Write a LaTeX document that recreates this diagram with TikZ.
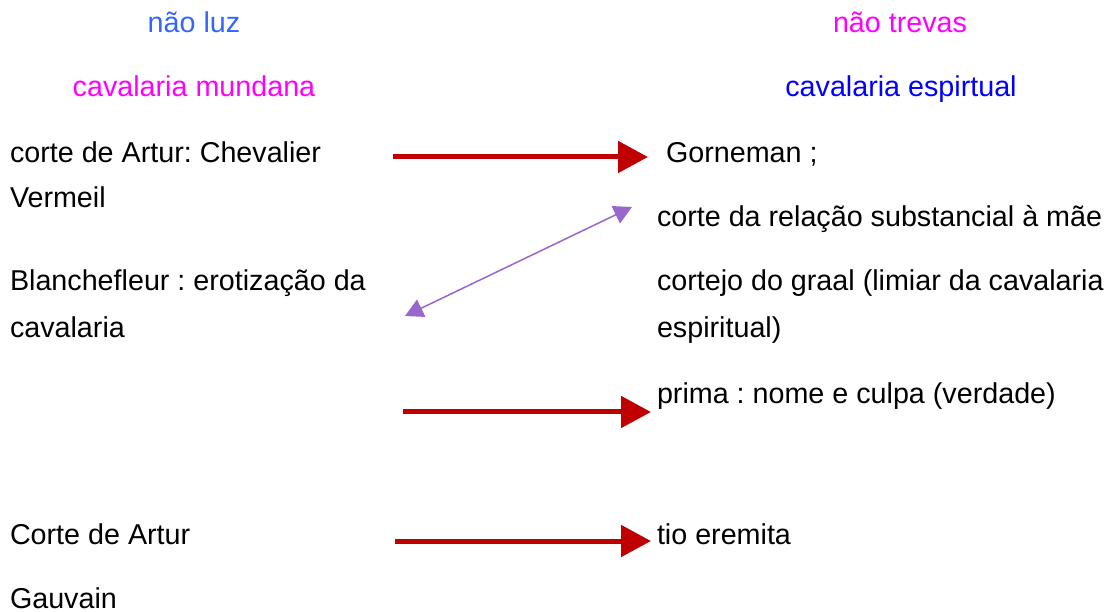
\documentclass[tikz,border=0pt]{standalone}
\usepackage{fontspec}
\setmainfont{Liberation Sans}
\usetikzlibrary{arrows.meta}
\definecolor{lightblue}{HTML}{3366FF}
\definecolor{magent}{HTML}{FF00FF}
\definecolor{pureblue}{HTML}{0000FF}
\definecolor{darkred}{HTML}{C00000}
\definecolor{lilac}{HTML}{9966CC}
\frenchspacing
\begin{document}
\begin{tikzpicture}[x=1pt,y=-1pt,
  txt/.style={inner sep=0pt,outer sep=0pt,font=\fontsize{28.7}{34}\selectfont},
  lft/.style={txt,anchor=base west},
  ctr/.style={txt,anchor=base},
  redarrow/.style={draw=darkred,fill=darkred,line width=5pt,-{Triangle[length=30pt,width=31pt]}},
  purplearrow/.style={draw=lilac,fill=lilac,line width=1.5pt,{Triangle[length=18pt,width=19pt]}-{Triangle[length=18pt,width=19pt]}}]
\useasboundingbox (0,0) rectangle (1120,612);
% headers
\node[ctr,text=lightblue] (h1) at (194,33) {não luz};
\node[ctr,text=magent] (h2) at (194,97) {cavalaria mundana};
\node[ctr,text=magent] (h3) at (900,33) {não trevas};
\node[ctr,text=pureblue] (h4) at (901,97) {cavalaria espirtual};
% left column
\node[lft] (l1) at (10,163) {corte de Artur: Chevalier};
\node[lft] (l2) at (10,208) {Vermeil};
\node[lft] (l3) at (10,291) {Blanchefleur : erotização da};
\node[lft] (l4) at (10,338) {cavalaria};
\node[lft] (l5) at (10,544) {Corte de Artur};
\node[lft,text depth=0pt] (l6) at (10,608) {Gauvain};
% right column
\node[lft] (r1) at (666,163) {Gorneman ;};
\node[lft] (r2) at (657,227) {corte da relação substancial à mãe};
\node[lft] (r3) at (657,291) {cortejo do graal (limiar da cavalaria};
\node[lft] (r4) at (657,338) {espiritual)};
\node[lft] (r5) at (657,403) {prima : nome e culpa (verdade)};
\node[lft] (r6) at (657,544) {tio eremita};
% arrow end points
\coordinate (a1s) at (393,157);
\coordinate (a1e) at (648,157);
\coordinate (bs) at (405,316);
\coordinate (be) at (632,207);
\coordinate (a3s) at (403,412);
\coordinate (a3e) at (651,412);
\coordinate (a4s) at (395,541);
\coordinate (a4e) at (651,541);
\draw[redarrow] (a1s) -- (a1e);
\draw[purplearrow] (bs) -- (be);
\draw[redarrow] (a3s) -- (a3e);
\draw[redarrow] (a4s) -- (a4e);
\end{tikzpicture}
\end{document}
